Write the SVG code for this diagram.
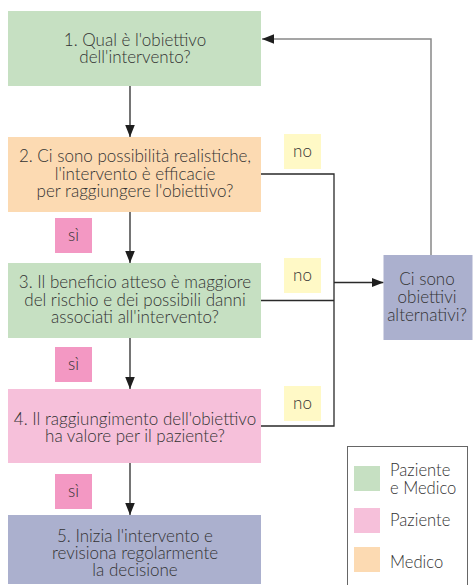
<svg xmlns="http://www.w3.org/2000/svg" width="473" height="585" viewBox="0 0 473 585">
<defs>
<marker id="ah" markerWidth="12" markerHeight="15" refX="15" refY="6" orient="auto" markerUnits="userSpaceOnUse" viewBox="0 0 15 12">
<path d="M0,0 L15,6 L0,12 Z" fill="#1e1e1e"/>
</marker>
</defs>
<style>
.t{font-family:Lato,"Open Sans","Liberation Sans",sans-serif;font-size:17px;fill:#333;text-anchor:middle;font-weight:300}
.lg{font-family:Lato,"Open Sans","Liberation Sans",sans-serif;font-size:16.6px;fill:#333;font-weight:300}
.c{fill:none;stroke:#2a2a2a;stroke-width:1.3}
.fb{fill:none;stroke:#888;stroke-width:1.5}
.g{fill:#c6e0c2}.o{fill:#fcdab2}.p{fill:#f6c0da}.v{fill:#abb0ce}.y{fill:#fff9c6}.s{fill:#f398c3}
</style>
<rect width="473" height="585" fill="#fff"/>
<g id="connectors">
<path class="c" d="M130,86 V137" marker-end="url(#ah)"/>
<path class="c" d="M130,212 V263" marker-end="url(#ah)"/>
<path class="c" d="M130,338 V389" marker-end="url(#ah)"/>
<path class="c" d="M130,463 V515" marker-end="url(#ah)"/>
<path class="c" d="M261,174 H334 V426 H261"/>
<path class="c" d="M261,300.5 H334"/>
<path class="c" d="M334,282.5 H383.5" marker-end="url(#ah)"/>
<path class="fb" d="M431,255 V39 H262" marker-end="url(#ah)"/>
</g>
<g id="n1"><rect class="g" x="8" y="11" width="253" height="75"/>
<text class="t" x="135" y="45.5">1. Qual è l'obiettivo</text><text class="t" x="135" y="63">dell'intervento?</text></g>
<g id="n2"><rect class="o" x="8" y="137" width="253" height="75"/>
<text class="t" x="135" y="162">2. Ci sono possibilità realistiche,</text><text class="t" x="135" y="179.5">l'intervento è efficacie</text><text class="t" x="135" y="197">per raggiungere l'obiettivo?</text></g>
<g id="n3"><rect class="g" x="8" y="263" width="253" height="75"/>
<text class="t" x="135" y="288">3. Il beneficio atteso è maggiore</text><text class="t" x="135" y="305.5">del rischio e dei possibili danni</text><text class="t" x="135" y="323">associati all'intervento?</text></g>
<g id="n4"><rect class="p" x="8" y="389" width="253" height="74"/>
<text class="t" x="135" y="425">4. Il raggiungimento dell'obiettivo</text><text class="t" x="135" y="442">ha valore per il paziente?</text></g>
<g id="n5"><rect class="v" x="8" y="515" width="253" height="69"/>
<text class="t" x="135" y="541.5">5. Inizia l'intervento e</text><text class="t" x="135" y="559">revisiona regolarmente</text><text class="t" x="135" y="576">la decisione</text></g>
<g id="alt"><rect class="v" x="383.5" y="255" width="89" height="85"/>
<text class="t" x="427" y="285">Ci sono</text><text class="t" x="427" y="302.5">obiettivi</text><text class="t" x="427" y="320.5">alternativi?</text></g>
<g id="no1"><rect class="y" x="284" y="134" width="37" height="35"/><text class="t" x="302.5" y="157">no</text></g>
<g id="no2"><rect class="y" x="284" y="258" width="37" height="35"/><text class="t" x="302.5" y="281">no</text></g>
<g id="no3"><rect class="y" x="284" y="386" width="37" height="35"/><text class="t" x="302.5" y="409">no</text></g>
<g id="si1"><rect class="s" x="55" y="218" width="37" height="35"/><text class="t" x="73.5" y="241">sì</text></g>
<g id="si2"><rect class="s" x="55" y="347" width="37" height="35"/><text class="t" x="73.5" y="370">sì</text></g>
<g id="si3"><rect class="s" x="55" y="474" width="37" height="35"/><text class="t" x="73.5" y="497">sì</text></g>
<g id="legend">
<rect x="347.5" y="446.5" width="120" height="145" fill="#fff" stroke="#666" stroke-width="1"/>
<rect class="g" x="354" y="466" width="26" height="25"/>
<rect class="p" x="354" y="508" width="26" height="25"/>
<rect class="o" x="354" y="547" width="26" height="25"/>
<text class="lg" x="390" y="476">Paziente</text><text class="lg" x="390" y="493.5">e Medico</text>
<text class="lg" x="390" y="526">Paziente</text>
<text class="lg" x="390" y="568">Medico</text>
</g>
</svg>
